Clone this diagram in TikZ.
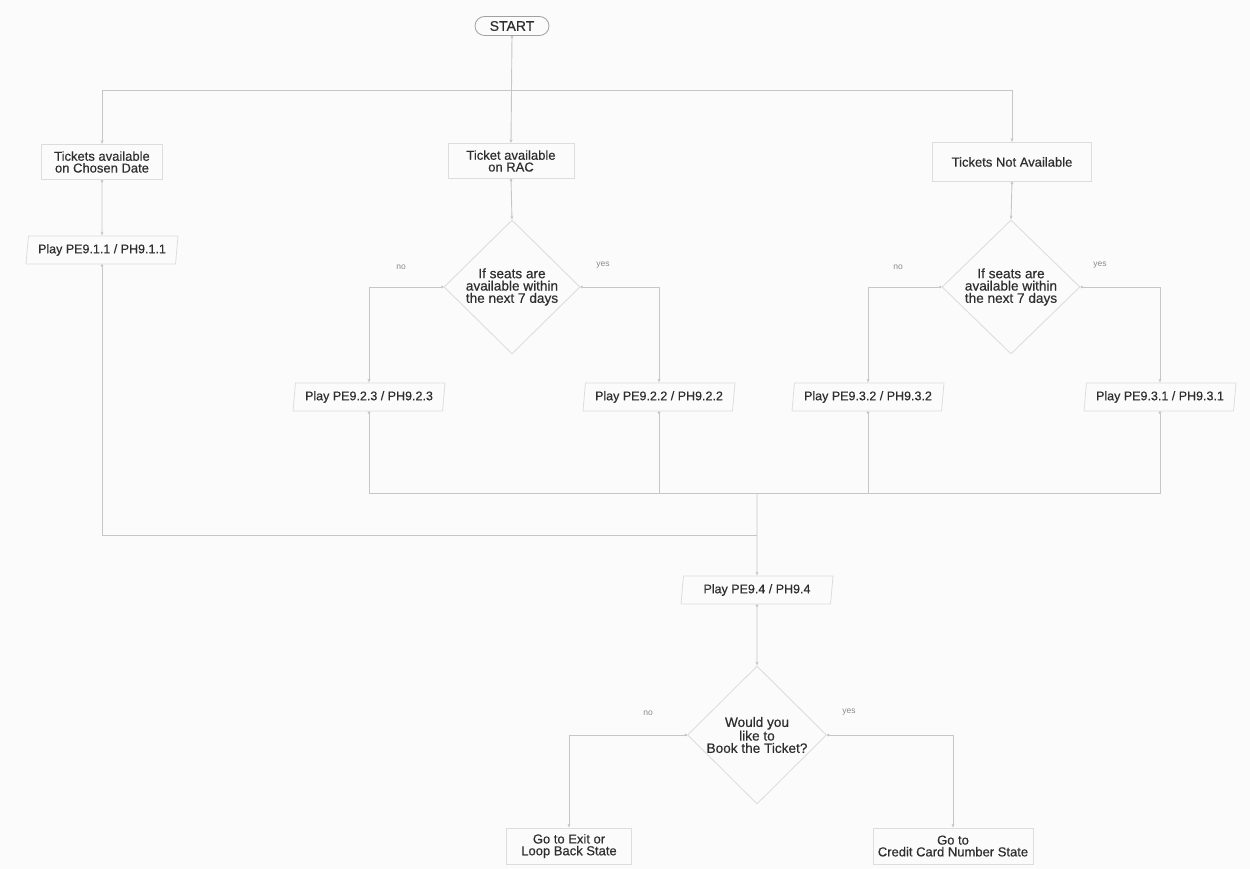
\documentclass[tikz,border=0pt]{standalone}
\usepackage{fontspec}
\setmainfont{Liberation Sans}
\newfontfamily\mfont{Liberation Sans}[FakeBold=0.45]
\usetikzlibrary{shapes.geometric,arrows.meta}
\definecolor{bgc}{HTML}{FBFBFB}
\definecolor{linec}{HTML}{C6C6C6}
\definecolor{borderc}{HTML}{DDDDDD}
\definecolor{txtc}{HTML}{2E2E2E}
\definecolor{lblc}{HTML}{8A8A8A}
\tikzset{
  base/.style={text=txtc, align=center, inner sep=0pt, font=\mfont\fontsize{12.5}{12}\selectfont},
  boxnode/.style={base, draw=borderc, line width=0.8pt, rectangle, font=\mfont\fontsize{13}{11.8}\selectfont},
  paranode/.style={base, draw=borderc, line width=0.8pt, trapezium, trapezium left angle=78, trapezium right angle=102, trapezium stretches body, minimum width=152pt, minimum height=28pt},
  decnode/.style={base, draw=borderc, line width=0.9pt, diamond, minimum width=136pt, minimum height=134pt, font=\mfont\fontsize{13.6}{12.3}\selectfont},
  pillnode/.style={base, draw=lblc!80, line width=0.8pt, rectangle, rounded corners=9.5pt, minimum width=74pt, minimum height=19pt, font=\mfont\fontsize{14}{14}\selectfont},
  lbl/.style={text=lblc, inner sep=0pt, font=\fontsize{8.5}{9}\selectfont},
  conn/.style={draw=linec, line width=0.9pt},
  arr/.style={conn, -{Stealth[length=4pt,width=3pt]}},
  darr/.style={conn, {Circle[length=2.6pt]}-{Stealth[length=4pt,width=3pt]}},
  dline/.style={conn, {Circle[length=2.6pt]}-},
}
\begin{document}
\begin{tikzpicture}[x=1pt,y=-1pt]
\fill[bgc] (0,0) rectangle (1250,869);
\useasboundingbox (0,0) rectangle (1250,869);

\node[pillnode] (start) at (512,26) {START};
\coordinate (split) at (512,90);

\node[boxnode, minimum width=121pt, minimum height=35pt] (box1) at (102,162) {Tickets available\\on Chosen Date};
\node[boxnode, minimum width=126pt, minimum height=35pt] (rac) at (511,161) {Ticket available\\on RAC};
\node[boxnode, minimum width=159pt, minimum height=39pt] (tna) at (1012,162) {Tickets Not Available};

\node[paranode] (p911) at (102,250) {Play PE9.1.1 / PH9.1.1};

\node[decnode] (d1) at (512,287) {If seats are\\available within\\the next 7 days};
\node[decnode, minimum width=138pt] (d2) at (1011,287) {If seats are\\available within\\the next 7 days};

\node[lbl] (no1) at (401,267) {no};
\node[lbl] (yes1) at (603,265) {yes};
\node[lbl] (no2) at (898,267) {no};
\node[lbl] (yes2) at (1100,265) {yes};

\node[paranode] (p923) at (369,397) {Play PE9.2.3 / PH9.2.3};
\node[paranode] (p922) at (659,397) {Play PE9.2.2 / PH9.2.2};
\node[paranode] (p932) at (868,397) {Play PE9.3.2 / PH9.3.2};
\node[paranode] (p931) at (1160,397) {Play PE9.3.1 / PH9.3.1};

\coordinate (mergeA) at (757,493);
\coordinate (mergeB) at (757,535);

\node[paranode] (p94) at (757,590) {Play PE9.4 / PH9.4};

\node[decnode, minimum width=139pt, minimum height=138pt] (d3) at (757,735) {Would you\\like to\\Book the Ticket?};
\node[lbl] (no3) at (648,713) {no};
\node[lbl] (yes3) at (849,712) {yes};

\node[boxnode, minimum width=125pt, minimum height=36pt] (exit) at (569,846) {Go to Exit or\\Loop Back State};
\node[boxnode, minimum width=160pt, minimum height=36pt] (cc) at (953,846) {Go to\\Credit Card Number State};

% connectors
\draw[darr] (start.south) -- (rac.north);
\draw[arr] (split) -| (box1.north);
\draw[arr] (split) -| (tna.north);
\draw[darr] (box1.south) -- (p911.north);
\draw[darr] (rac.south) -- (d1.north);
\draw[darr] (tna.south) -- (d2.north);

\draw[darr] (d1.west) -| (p923.north);
\draw[darr] (d1.east) -| (p922.north);
\draw[darr] (d2.west) -| (p932.north);
\draw[darr] (d2.east) -| (p931.north);

\draw[dline] (p923.south) |- (mergeA);
\draw[dline] (p922.south) |- (mergeA);
\draw[dline] (p932.south) |- (mergeA);
\draw[dline] (p931.south) |- (mergeA);
\draw[dline] (p911.south) |- (mergeB);
\draw[arr] (mergeA) -- (p94.north);

\draw[darr] (p94.south) -- (d3.north);
\draw[darr] (d3.west) -| (exit.north);
\draw[darr] (d3.east) -| (cc.north);
\end{tikzpicture}
\end{document}
